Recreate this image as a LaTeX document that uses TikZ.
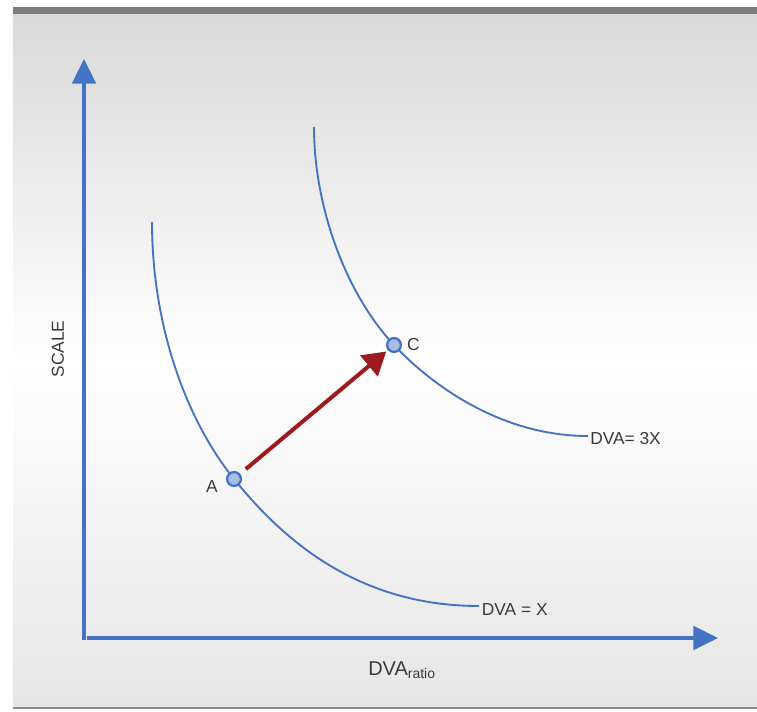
\documentclass[tikz,border=0pt]{standalone}
\usepackage{fontspec}
\setmainfont{Liberation Sans}
\usepackage{xcolor}
\usetikzlibrary{arrows.meta,positioning}
\definecolor{axisblue}{HTML}{4472C4}
\definecolor{ptfill}{HTML}{A9BEE5}
\definecolor{arrowred}{HTML}{9B1B1E}
\definecolor{txtgray}{HTML}{3A3A3A}
\definecolor{bargray}{HTML}{7B7B7D}

\begin{document}
\begin{tikzpicture}[x=0.75pt,y=-0.75pt,
    axis/.style={draw=axisblue,line width=3pt,-{Triangle[length=18.5pt,width=17.5pt]}},
    curve/.style={draw=axisblue,line width=1.4pt},
    pt/.style={circle,draw=axisblue,fill=ptfill,line width=1.7pt,inner sep=0pt,minimum size=10.4pt},
    lbl/.style={text=txtgray,font=\fontsize{13}{15}\selectfont,inner sep=0pt}]
  \useasboundingbox (0,0) rectangle (757,711);
  % background
  \shade[top color=gray!30,bottom color=gray!20,middle color=white] (13,14) rectangle (757,708);
  \fill[bargray] (13,7) rectangle (757,14);
  \draw[gray!90,line width=1.2pt] (13,708) -- (757,708);
  % axes
  \coordinate (orig) at (84,640);
  \coordinate (ytop) at (84,59);
  \coordinate (xstart) at (87,638);
  \coordinate (xtip) at (718,638);
  \draw[axis] (orig) -- (ytop);
  \draw[axis] (xstart) -- (xtip);
  \node[lbl,rotate=90] (scale) at (58,349) {SCALE};
  \node[lbl,anchor=base west,font=\fontsize{15}{17}\selectfont] (xlab) at (368,675) {DVA\textsubscript{ratio}};
  % curves
  \coordinate (topX) at (152,222);
  \coordinate (endX) at (479,606);
  \coordinate (top3X) at (314,127);
  \coordinate (end3X) at (588,436);
  \draw[curve] (topX) .. controls (152,322) and (184,417) .. (234,479)
                      .. controls (284,541) and (359,606) .. (endX);
  \draw[curve] (top3X) .. controls (314,207) and (346,294) .. (394,345)
                       .. controls (428,381.5) and (498,436) .. (end3X);
  \node[lbl,right=2pt of endX,yshift=-2.6pt] (lblX) {DVA = X};
  \node[lbl,right=1.5pt of end3X,yshift=-2pt] (lbl3X) {DVA= 3X};
  % points
  \node[pt] (A) at (234,479) {};
  \node[pt] (C) at (394,345) {};
  \node[lbl,left=6pt of A,yshift=-6pt] (lblA) {A};
  \node[lbl,right=3.5pt of C] (lblC) {C};
  \draw[arrowred,line width=3pt,-{Triangle[length=17pt,width=20pt]},shorten <=5.5pt,shorten >=1.5pt] (A) -- (C);
\end{tikzpicture}
\end{document}
